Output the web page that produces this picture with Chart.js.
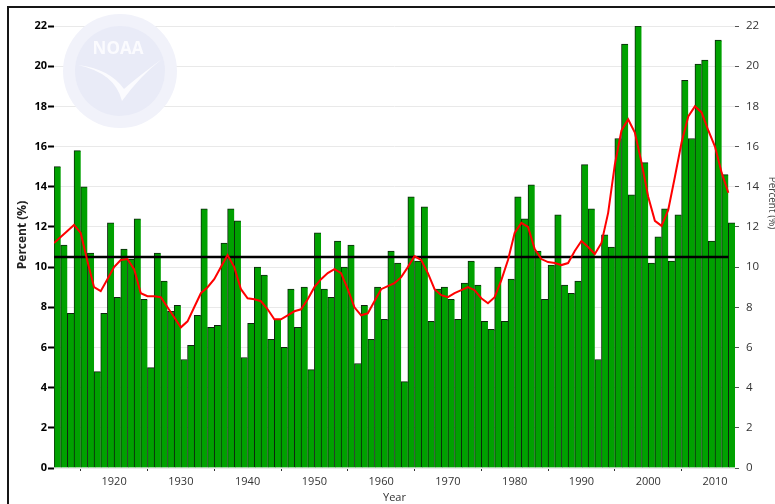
<!DOCTYPE html>
<html>
<head>
<meta charset="utf-8">
<script src="https://cdn.jsdelivr.net/npm/chart.js@4/dist/chart.umd.min.js"></script>
<style>
  html, body { margin: 0; padding: 0; background: #ffffff; overflow: hidden; }
  #wrap { position: relative; width: 775px; height: 504px; }
  #frame { position: absolute; left: 7px; top: 6px; width: 800px; height: 530px; border: 2px solid #161616; pointer-events: none; }
</style>
</head>
<body>
<div id="wrap">
  <canvas id="c" width="775" height="504"></canvas>
  <div id="frame"></div>
</div>
<script>
// ---- data ----
const firstYear = 1911;
const years = Array.from({ length: 102 }, (_, i) => firstYear + i); // 1911..2012

const pctValues = [
  15.0, 11.1, 7.7, 15.8, 14.0, 10.7, 4.8, 7.7, 12.2, 8.5,      // 1911-1920
  10.9, 10.4, 12.4, 8.4, 5.0, 10.7, 9.3, 7.8, 8.1, 5.4,        // 1921-1930
  6.1, 7.6, 12.9, 7.0, 7.1, 11.2, 12.9, 12.3, 5.5, 7.2,        // 1931-1940
  10.0, 9.6, 6.4, 7.4, 6.0, 8.9, 7.0, 9.0, 4.9, 11.7,          // 1941-1950
  8.9, 8.5, 11.3, 10.0, 11.1, 5.2, 8.1, 6.4, 9.0, 7.4,         // 1951-1960
  10.8, 10.2, 4.3, 13.5, 10.3, 13.0, 7.3, 8.9, 9.0, 8.4,       // 1961-1970
  7.4, 9.2, 10.3, 9.1, 7.3, 6.9, 10.0, 7.3, 9.4, 13.5,         // 1971-1980
  12.4, 14.1, 10.8, 8.4, 10.1, 12.6, 9.1, 8.7, 9.3, 15.1,      // 1981-1990
  12.9, 5.4, 11.6, 11.0, 16.4, 21.1, 13.6, 22.0, 15.2, 10.2,   // 1991-2000
  11.5, 12.9, 10.3, 12.6, 19.3, 16.4, 20.1, 20.3, 11.3, 21.3,  // 2001-2010
  14.6, 12.2                                                   // 2011-2012
];

const smoothValues = [
  11.2, 11.5, 11.8, 12.1, 11.7, 10.3, 9.0, 8.8, 9.4, 10.0,     // 1911-1920
  10.35, 10.4, 9.9, 8.7, 8.55, 8.55, 8.5, 8.0, 7.5, 7.0,       // 1921-1930
  7.3, 8.0, 8.7, 9.0, 9.4, 10.0, 10.6, 10.0, 8.9, 8.45,        // 1931-1940
  8.4, 8.3, 7.9, 7.4, 7.4, 7.6, 7.8, 7.9, 8.4, 9.0,            // 1941-1950
  9.4, 9.7, 9.9, 9.7, 8.9, 8.0, 7.6, 7.7, 8.3, 8.9,            // 1951-1960
  9.05, 9.2, 9.5, 10.0, 10.55, 10.35, 9.7, 8.9, 8.6, 8.5,      // 1961-1970
  8.7, 8.85, 9.0, 8.85, 8.45, 8.2, 8.5, 9.35, 10.35, 11.7,     // 1971-1980
  12.2, 12.0, 10.9, 10.4, 10.25, 10.2, 10.1, 10.2, 10.8, 11.3, // 1981-1990
  11.0, 10.65, 11.2, 12.7, 15.1, 16.8, 17.35, 16.7, 15.2, 13.5,// 1991-2000
  12.3, 12.05, 12.85, 14.5, 16.2, 17.5, 18.0, 17.7, 16.8, 16.0,// 2001-2010
  14.7, 13.7                                                   // 2011-2012
];

const averageValue = 10.5;
const averageYears = [1911, 2012];

const xTickLabels = [1920, 1930, 1940, 1950, 1960, 1970, 1980, 1990, 2000, 2010];
const yTickValues = [0, 2, 4, 6, 8, 10, 12, 14, 16, 18, 20, 22];

const yTitle = 'Percent (%)';
const xTitle = 'Year';

// ---- datasets built from the arrays ----
const barData = years.map((yr, i) => ({ x: yr + 0.5, y: pctValues[i] }));
const smoothData = years.map((yr, i) => ({ x: yr, y: smoothValues[i] }));
const avgData = averageYears.map(yr => ({ x: yr, y: averageValue }));

const FONT = "'Open Sans', 'DejaVu Sans', sans-serif";

const decorPlugin = {
  id: 'decor',
  beforeDatasetsDraw(chart) {
    // very faint NOAA watermark
    const ctx = chart.ctx;
    const cx = 120, cy = 71;
    ctx.save();
    ctx.beginPath(); ctx.arc(cx, cy, 57, 0, Math.PI * 2);
    ctx.fillStyle = '#f1f2fa'; ctx.fill();
    ctx.beginPath(); ctx.arc(cx, cy, 45, 0, Math.PI * 2);
    ctx.fillStyle = '#e9ebf7'; ctx.fill();
    // bird swoosh
    ctx.beginPath();
    ctx.moveTo(cx - 42, cy - 6);
    ctx.quadraticCurveTo(cx - 5, cy + 2, cx + 2, cy + 30);
    ctx.quadraticCurveTo(cx + 20, cy + 5, cx + 42, cy - 12);
    ctx.quadraticCurveTo(cx + 15, cy + 8, cx + 4, cy + 18);
    ctx.quadraticCurveTo(cx - 10, cy - 2, cx - 42, cy - 6);
    ctx.fillStyle = '#fbfbfe'; ctx.fill();
    ctx.fillStyle = '#fbfbfe';
    ctx.font = 'bold 17px ' + FONT;
    ctx.textAlign = 'center'; ctx.textBaseline = 'middle';
    ctx.fillText('NOAA', cx - 2, cy - 22);
    ctx.restore();
  },
  afterDraw(chart) {
    const ctx = chart.ctx;
    ctx.save();
    ctx.textAlign = 'center'; ctx.textBaseline = 'middle';
    ctx.translate(23, 235);
    ctx.rotate(-Math.PI / 2);
    ctx.font = 'bold 12px ' + FONT;
    ctx.fillStyle = '#222';
    ctx.fillText(yTitle, 0, 0);
    ctx.restore();
    ctx.save();
    ctx.textAlign = 'center'; ctx.textBaseline = 'middle';
    ctx.translate(772, 203);
    ctx.rotate(Math.PI / 2);
    ctx.font = '10px ' + FONT;
    ctx.fillStyle = '#444';
    ctx.fillText(yTitle, 0, 0);
    ctx.restore();
  }
};

new Chart(document.getElementById('c'), {
  type: 'bar',
  data: {
    datasets: [
      {
        type: 'line', label: 'Smoothed', data: smoothData, yAxisID: 'y',
        borderColor: '#ff0000', borderWidth: 2, pointRadius: 0, tension: 0, order: 0
      },
      {
        type: 'line', label: 'Average', data: avgData, yAxisID: 'y',
        borderColor: '#000000', borderWidth: 2.5, pointRadius: 0, tension: 0, order: 1
      },
      {
        type: 'bar', label: 'Percent', data: barData, yAxisID: 'y',
        backgroundColor: '#00a100', borderColor: '#0e240e',
        borderWidth: { left: 1, top: 1, right: 0, bottom: 0 }, borderSkipped: false,
        barPercentage: 1.0, categoryPercentage: 1.0, order: 2
      }
    ]
  },
  options: {
    responsive: false,
    animation: false,
    layout: { padding: { top: 26, left: 0, right: 0, bottom: 0 } },
    plugins: { legend: { display: false }, tooltip: { enabled: false } },
    scales: {
      x: {
        type: 'linear', min: 1911, max: 2013, offset: false,
        afterBuildTicks: s => { s.ticks = xTickLabels.map(v => ({ value: v })); },
        afterFit: s => { s.height = 36; },
        grid: { drawOnChartArea: false, tickLength: 3, tickColor: '#333', tickWidth: 1 },
        border: { display: false },
        ticks: { callback: v => String(v), color: '#333', font: { family: FONT, size: 11 }, padding: 4, maxRotation: 0, autoSkip: false },
        title: { display: true, text: xTitle, color: '#333', font: { family: FONT, size: 11 }, padding: { top: 0, bottom: 0 } }
      },
      y: {
        position: 'left', min: 0, max: 22,
        afterBuildTicks: s => { s.ticks = yTickValues.map(v => ({ value: v })); },
        afterFit: s => { s.width = 54; },
        grid: { color: '#e9e9e9', lineWidth: 1, tickColor: '#000', tickLength: 6, tickWidth: 2 },
        border: { display: false },
        ticks: { color: '#000', font: { family: FONT, size: 11, weight: 'bold' }, padding: 1 }
      },
      y2: {
        position: 'right', min: 0, max: 22,
        afterBuildTicks: s => { s.ticks = yTickValues.map(v => ({ value: v })); },
        afterFit: s => { s.width = 40; },
        grid: { drawOnChartArea: false, tickColor: '#555', tickLength: 4, tickWidth: 1 },
        border: { display: false },
        ticks: { color: '#333', font: { family: FONT, size: 11.5 }, padding: 7 }
      }
    }
  },
  plugins: [decorPlugin]
});
</script>
</body>
</html>
